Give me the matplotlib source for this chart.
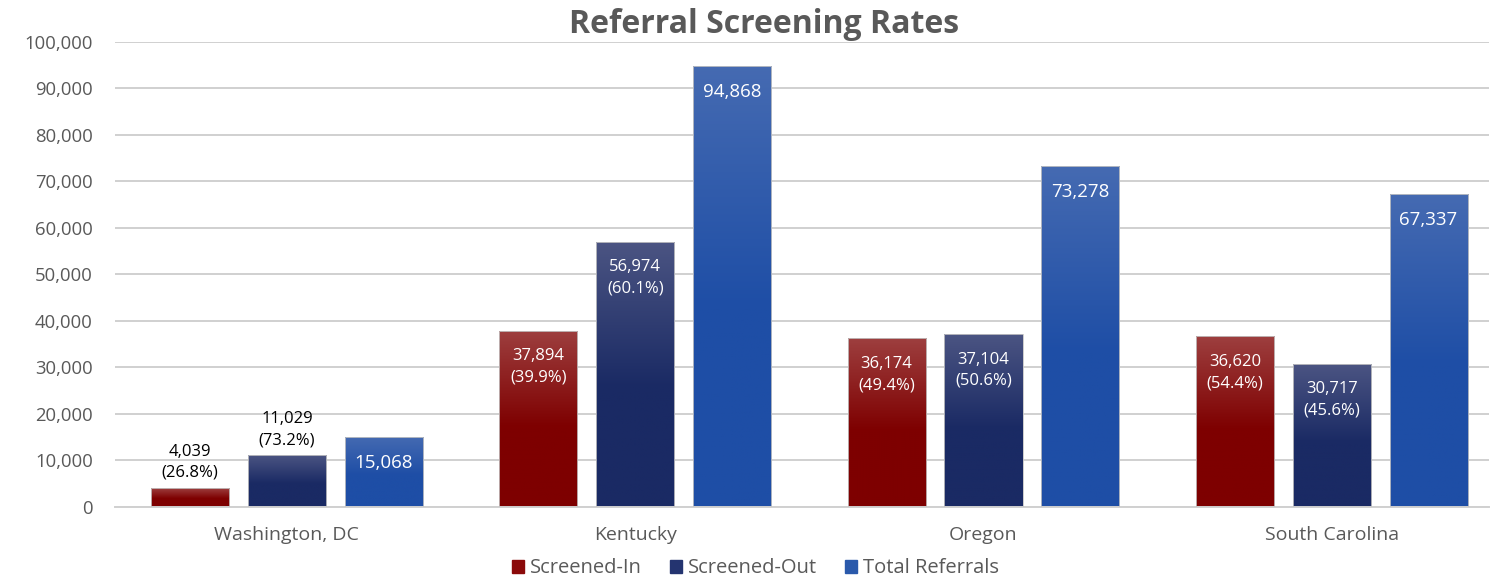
import numpy as np
import matplotlib.pyplot as plt
from matplotlib.colors import LinearSegmentedColormap

plt.rcParams['font.family'] = ['Open Sans', 'DejaVu Sans']

# data
states = ['Washington, DC', 'Kentucky', 'Oregon', 'South Carolina']
screened_in = [4039, 37894, 36174, 36620]
screened_out = [11029, 56974, 37104, 30717]
total = [15068, 94868, 73278, 67337]

series_names = ['Screened-In', 'Screened-Out', 'Total Referrals']
# top / bottom gradient colours
grad = [('#9e4040', '#7e0000'), ('#4c5583', '#1a2a64'), ('#466bb2', '#1e4ea6')]
solid = ['#8b0a0a', '#243470', '#2a59ab']

fig = plt.figure(figsize=(14.96, 5.81), dpi=100)
ax = fig.add_axes([0.077, 0.128, 0.918, 0.80])

width = 0.224
step = 0.278
x = np.arange(len(states))
allvals = [screened_in, screened_out, total]

for k, vals in enumerate(allvals):
    cmap = LinearSegmentedColormap.from_list(
        'g%d' % k, [(0, grad[k][1]), (0.45, grad[k][1]), (1, grad[k][0])])
    pos = x + (k - 1) * step
    bars = ax.bar(pos, vals, width, color='none', edgecolor='#c4c4c4', linewidth=0.6,
                  zorder=3, label=series_names[k])
    for b in bars:
        x0, h = b.get_x(), b.get_height()
        g = np.linspace(0, 1, 256).reshape(-1, 1)
        im = ax.imshow(g, cmap=cmap, origin='lower', aspect='auto',
                       extent=[x0 - 0.01, x0 + width + 0.01, 0, h * 1.01], zorder=2)
        im.set_clip_path(b)
    for i, (p, v) in enumerate(zip(pos, vals)):
        if k < 2:
            txt = '{:,}\n({:.1f}%)'.format(v, 100.0 * v / total[i])
            fs = 12
        else:
            txt = '{:,}'.format(v)
            fs = 13.5
        if i == 0 and k < 2:
            ax.annotate(txt, (p, v), xytext=(0, 5), textcoords='offset points',
                        ha='center', va='bottom', fontsize=fs, color='black',
                        linespacing=1.45, zorder=5)
        else:
            ax.annotate(txt, (p, v), xytext=(0, -12.5), textcoords='offset points',
                        ha='center', va='top', fontsize=fs, color='white',
                        linespacing=1.45, zorder=5)

ax.set_xlim(-0.493, 3.45)
ax.set_ylim(0, 100000)
ax.set_yticks(np.arange(0, 100001, 10000))
ax.set_yticklabels(['{:,}'.format(t) for t in range(0, 100001, 10000)])
ax.set_xticks(x)
ax.set_xticklabels(states)
ax.tick_params(axis='both', length=0, colors='#595959')
ax.tick_params(axis='x', labelsize=14, pad=14)
ax.tick_params(axis='y', labelsize=13.3, pad=16)
ax.grid(axis='y', color='#d0d0d0', linewidth=1.4, zorder=0)
ax.set_axisbelow(True)
for s in ['top', 'right', 'left']:
    ax.spines[s].set_visible(False)
ax.spines['bottom'].set_color('#d0d0d0')
ax.spines['bottom'].set_linewidth(1.4)

fig.text(0.511, 0.958, 'Referral Screening Rates', ha='center', va='center',
         fontsize=23, fontweight='bold', color='#595959')

handles = [plt.Rectangle((0, 0), 1, 1, color=c) for c in solid]
fig.legend(handles, series_names, loc='center', bbox_to_anchor=(0.505, 0.022), ncol=3,
           frameon=False, fontsize=14.5, handlelength=0.6, handleheight=0.6,
           handletextpad=0.3, columnspacing=1.4, labelcolor='#595959')

plt.savefig('out.png', dpi=100)
